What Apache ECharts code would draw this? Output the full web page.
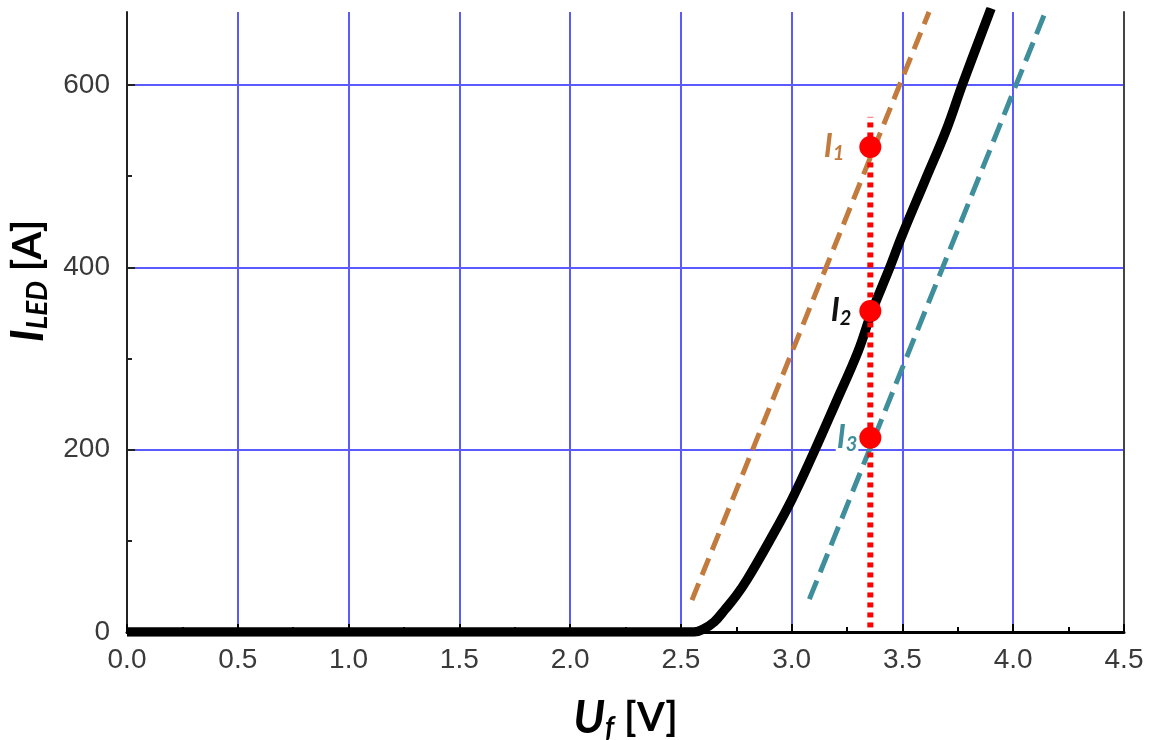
<!DOCTYPE html>
<html><head><meta charset="utf-8">
<script src="https://cdn.jsdelivr.net/npm/echarts@6/dist/echarts.min.js"></script>
<style>html,body{margin:0;padding:0;background:#fff}#c{width:1151px;height:740px}</style>
</head><body><div id="c"></div>
<script>
// ---- data ----
const ledCurve = [[0,0],[2.5,0],[2.56,0],[2.6,3],[2.65,11],[2.7,25],[2.75,40],[2.8,58],[2.9,100],[3.0,145],[3.1,197],[3.2,252],[3.3,308],[3.36,350],[3.44,398],[3.5,436],[3.6,494],[3.7,552],[3.77,600],[3.9,684]];
const tangent1 = [[2.55,35],[3.62,680]];
const tangent3 = [[3.08,36],[4.145,680]];
const operatingU = 3.355;
const markerLine = [[operatingU,5],[operatingU,565]];
const currents = [532,352,213];
const currentSubs = ['1','2','3'];
const yMajorTicks = [0,200,400,600];
const yMinorTicks = [100,300,500];

// ---- styles ----
const gridBlue = '#5a5aff';
const labelStyles = [
  {color:'#c27b3d', dist:14, bg:'transparent'},
  {color:'#111111', dist:7, bg:'transparent'},
  {color:'#3f8e9c', dist:1, bg:'#ffffff'}
];
const titleFont = 'Lato, "Open Sans", sans-serif';
const tickFont = '"Liberation Sans", Arial, sans-serif';

const chart = echarts.init(document.getElementById('c'));
chart.setOption({
  animation:false,
  backgroundColor:'#fff',
  grid:{left:127,right:27,top:12,bottom:108,outerBoundsMode:'none',containLabel:false},
  xAxis:{
    type:'value', min:0, max:4.5, interval:0.5,
    name:'{u|U}{s|f}{b| [V]}', nameLocation:'middle', nameGap:62,
    nameTextStyle:{rich:{
      u:{fontFamily:titleFont,fontSize:46,fontWeight:'bold',fontStyle:'italic',color:'#000',lineHeight:48},
      s:{fontFamily:titleFont,fontSize:28,fontWeight:'bold',fontStyle:'italic',color:'#000',lineHeight:24,verticalAlign:'bottom'},
      b:{fontFamily:titleFont,fontSize:40,fontWeight:'bold',color:'#000',lineHeight:48}
    }},
    axisLine:{show:true,onZero:false,lineStyle:{color:'#000',width:3}},
    axisTick:{inside:true,length:8,lineStyle:{color:'#000',width:2}},
    minorTick:{show:true,splitNumber:2,length:5,lineStyle:{color:'#000',width:2}},
    axisLabel:{margin:14,fontFamily:tickFont,fontSize:28,color:'#3a3a3a',formatter:v=>v.toFixed(1)},
    splitLine:{show:true,showMinLine:false,showMaxLine:false,lineStyle:{color:gridBlue,width:2}}
  },
  yAxis:[{
    type:'value', min:0, max:680, interval:200, position:'left',
    name:'{i|I}{s|LED}{b| [A]}', nameLocation:'middle', nameGap:72,
    nameTextStyle:{padding:[0,0,0,82],rich:{
      i:{fontFamily:titleFont,fontSize:46,fontWeight:'bold',fontStyle:'italic',color:'#000',lineHeight:48},
      s:{fontFamily:titleFont,fontSize:28,fontWeight:'bold',fontStyle:'italic',color:'#000',lineHeight:24,verticalAlign:'bottom'},
      b:{fontFamily:titleFont,fontSize:40,fontWeight:'bold',color:'#000',lineHeight:48}
    }},
    axisLine:{show:true,lineStyle:{color:'#222',width:2}},
    axisTick:{inside:true,length:8,customValues:yMajorTicks,lineStyle:{color:'#222',width:2}},
    axisLabel:{margin:17,customValues:yMajorTicks,fontFamily:tickFont,fontSize:28,color:'#3a3a3a'},
    splitLine:{show:true,showMinLine:false,lineStyle:{color:gridBlue,width:2}}
  },{
    type:'value', min:0, max:680, position:'left',
    axisLine:{show:false},
    axisTick:{show:true,inside:true,length:5,customValues:yMinorTicks,lineStyle:{color:'#222',width:2}},
    axisLabel:{show:false},
    splitLine:{show:false}
  },{
    type:'value', min:0, max:680, position:'right',
    axisLine:{show:true,lineStyle:{color:'#444',width:2}},
    axisTick:{show:false}, axisLabel:{show:false}, splitLine:{show:false}
  }],
  series:[
    {type:'line', data:ledCurve, smooth:0.4, showSymbol:false, lineStyle:{color:'#000',width:9.5}, z:3},
    {type:'line', data:tangent1, showSymbol:false, lineStyle:{color:'#c27b3d',width:5,type:[18,9]}, z:2},
    {type:'line', data:tangent3, showSymbol:false, lineStyle:{color:'#3f8e9c',width:5,type:[20,9]}, z:2},
    {type:'line', data:markerLine, showSymbol:false, lineStyle:{color:'#ff0000',width:6,type:[5,5]}, z:4},
    {type:'scatter', symbolSize:22, itemStyle:{color:'#ff0000',opacity:1}, z:5,
     data: currents.map((v,i)=>({
       value:[operatingU,v],
       label:{show:true, position:'left', distance:labelStyles[i].dist,
         backgroundColor:labelStyles[i].bg, padding:[0,1,0,1],
         formatter:'{m|I}{s|'+currentSubs[i]+'}',
         rich:{
           m:{fontFamily:titleFont,fontSize:32,fontWeight:'bold',fontStyle:'italic',color:labelStyles[i].color,lineHeight:34},
           s:{fontFamily:titleFont,fontSize:20,fontWeight:'bold',fontStyle:'italic',color:labelStyles[i].color,lineHeight:18,verticalAlign:'bottom'}
         }}
     }))
    }
  ]
});
</script></body></html>
